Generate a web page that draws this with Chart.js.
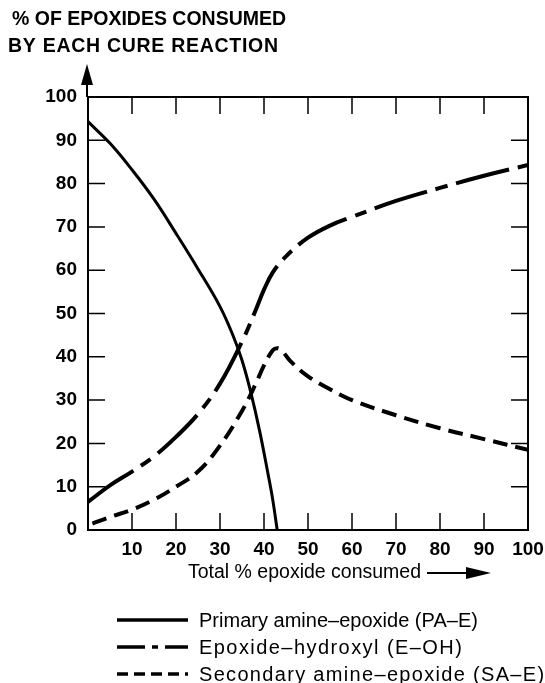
<!DOCTYPE html>
<html>
<head>
<meta charset="utf-8">
<script src="https://cdn.jsdelivr.net/npm/chart.js@4/dist/chart.umd.min.js"></script>
<style>
  html, body { margin: 0; padding: 0; background: #fff; }
  #wrap { width: 545px; height: 683px; }
</style>
</head>
<body>
<div id="wrap"><canvas id="cure_chart" width="545" height="683"></canvas></div>
<script>
// DATA
const titleLines = ['% OF EPOXIDES CONSUMED', 'BY EACH CURE REACTION'];
const xTitle = 'Total % epoxide consumed';

const paeLabel = 'Primary amine–epoxide (PA–E)';
const paeX = [0, 5, 10, 15, 20, 25, 30, 33, 35, 37, 39, 41, 42, 43];
const paeY = [94.3, 89.3, 83.2, 76.4, 68.5, 60.3, 51.6, 44.8, 39.2, 31.8, 22.9, 12.5, 6.9, 0];

const eohLabel = 'Epoxide–hydroxyl (E–OH)';
const eohX = [0, 5, 10, 15, 20, 25, 30, 35, 38, 40, 42, 45, 50, 55, 60, 70, 80, 90, 100];
const eohY = [6.5, 10.3, 13.5, 17, 21.5, 26.8, 33.8, 43.5, 50.5, 55.5, 59.5, 63.2, 67.5, 70.3, 72.3, 76, 79, 81.8, 84.3];

const saeLabel = 'Secondary amine–epoxide (SA–E)';
const saeX = [1, 5, 10, 15, 20, 25, 30, 35, 38, 40, 42, 43, 44, 46, 50, 55, 60, 70, 80, 90, 100];
const saeY = [1.5, 3, 4.7, 7, 10, 13.5, 19.5, 27.5, 33.5, 38, 41.5, 42, 41.5, 39, 35.5, 32.5, 30, 26.5, 23.5, 21, 18.5];

const FONT = '"Liberation Sans", Arial, Helvetica, sans-serif';

function toPoints(xs, ys) {
	return xs.map((x, i) => ({ x: x, y: ys[i] }));
}

// draw text stretched (via letter spacing) to roughly the width seen in the scan
function spreadText(c, text, x, y, width) {
	c.letterSpacing = '0px';
	const w = c.measureText(text).width;
	const extra = Math.max(0, (width - w) / (text.length - 1));
	c.letterSpacing = extra.toFixed(2) + 'px';
	c.fillText(text, x, y);
	c.letterSpacing = '0px';
}

// EXTRA DRAWING: frame, inner ticks, arrows, titles, legend
const decorations = {
	id: 'decorations',
	afterDraw(chart) {
		const c = chart.ctx;
		const a = chart.chartArea;
		const xs = chart.scales.x, ys = chart.scales.y;
		const tick = 17;
		c.save();
		c.strokeStyle = '#000';
		c.fillStyle = '#000';
		c.lineWidth = 2;
		c.setLineDash([]);
		c.strokeRect(a.left, a.top, a.right - a.left, a.bottom - a.top);

		// inner tick marks on all four sides
		c.lineWidth = 1.5;
		c.beginPath();
		xs.ticks.forEach(t => {
			if (t.value <= 0 || t.value >= 100) return;
			const px = xs.getPixelForValue(t.value);
			c.moveTo(px, a.bottom); c.lineTo(px, a.bottom - tick);
			c.moveTo(px, a.top); c.lineTo(px, a.top + tick);
		});
		ys.ticks.forEach(t => {
			if (t.value <= 0 || t.value >= 100) return;
			const py = ys.getPixelForValue(t.value);
			c.moveTo(a.left, py); c.lineTo(a.left + tick, py);
			c.moveTo(a.right, py); c.lineTo(a.right - tick, py);
		});
		c.stroke();

		// y axis arrow
		c.lineWidth = 2;
		c.beginPath();
		c.moveTo(a.left - 1, a.top);
		c.lineTo(a.left - 1, a.top - 14);
		c.stroke();
		c.beginPath();
		c.moveTo(a.left - 1, a.top - 33);
		c.lineTo(a.left - 7, a.top - 12);
		c.lineTo(a.left + 5, a.top - 12);
		c.closePath();
		c.fill();

		// titles
		c.font = 'bold 19.5px ' + FONT;
		c.textBaseline = 'alphabetic';
		c.textAlign = 'left';
		spreadText(c, titleLines[0], 12, 25, 273);
		spreadText(c, titleLines[1], 8, 52, 270);

		c.font = '19.5px ' + FONT;
		c.textBaseline = 'middle';
		c.fillText(xTitle, 188, 573);
		c.lineWidth = 2;
		c.beginPath();
		c.moveTo(427, 573);
		c.lineTo(470, 573);
		c.stroke();
		c.beginPath();
		c.moveTo(491, 573);
		c.lineTo(466, 567);
		c.lineTo(466, 579);
		c.closePath();
		c.fill();

		// legend
		const legendDash = [[], [28, 7, 6, 7], [11, 6]];
		const rowY = [620, 647, 674];
		const rowW = [279, 263, 345];
		c.font = '20px ' + FONT;
		chart.data.datasets.forEach((ds, i) => {
			const y = rowY[i];
			c.lineWidth = 3.5;
			c.setLineDash(legendDash[i]);
			c.beginPath();
			c.moveTo(117, y);
			c.lineTo(188, y);
			c.stroke();
			c.setLineDash([]);
			spreadText(c, ds.label, 199, y + 1, rowW[i]);
		});
		c.restore();
	}
};

const ctx = document.getElementById('cure_chart').getContext('2d');

const cure_chart = new Chart(ctx, {
	type: 'line',
	data: {
		datasets: [{
			label: paeLabel,
			data: toPoints(paeX, paeY),
			borderColor: '#000',
			borderWidth: 3,
			borderDash: []
		}, {
			label: eohLabel,
			data: toPoints(eohX, eohY),
			borderColor: '#000',
			borderWidth: 4,
			borderDash: [55, 9, 12, 9]
		}, {
			label: saeLabel,
			data: toPoints(saeX, saeY),
			borderColor: '#000',
			borderWidth: 4,
			borderDash: [15, 8]
		}]
	},
	options: {
		responsive: false,
		animation: false,
		events: [],
		layout: { padding: { top: 97, right: 0, left: 0, bottom: 0 } },
		elements: {
			point: { radius: 0 },
			line: { fill: false, tension: 0.4 }
		},
		plugins: {
			legend: { display: false },
			title: { display: false },
			tooltip: { enabled: false }
		},
		scales: {
			x: {
				type: 'linear',
				min: 0,
				max: 100,
				grid: { display: false, drawTicks: false },
				border: { display: false },
				afterFit(scale) {
					scale.height = 153;
					scale.paddingLeft = 0;
					scale.paddingRight = 17;
				},
				ticks: {
					stepSize: 10,
					padding: 8,
					color: '#000',
					font: { family: FONT, size: 19, weight: 'bold' },
					maxRotation: 0,
					callback: v => v === 0 ? '' : v
				}
			},
			y: {
				type: 'linear',
				min: 0,
				max: 100,
				grid: { display: false, drawTicks: false },
				border: { display: false },
				afterFit(scale) { scale.width = 88; },
				ticks: {
					stepSize: 10,
					padding: 11,
					color: '#000',
					font: { family: FONT, size: 19, weight: 'bold' }
				}
			}
		}
	},
	plugins: [decorations]
});
</script>
</body>
</html>
